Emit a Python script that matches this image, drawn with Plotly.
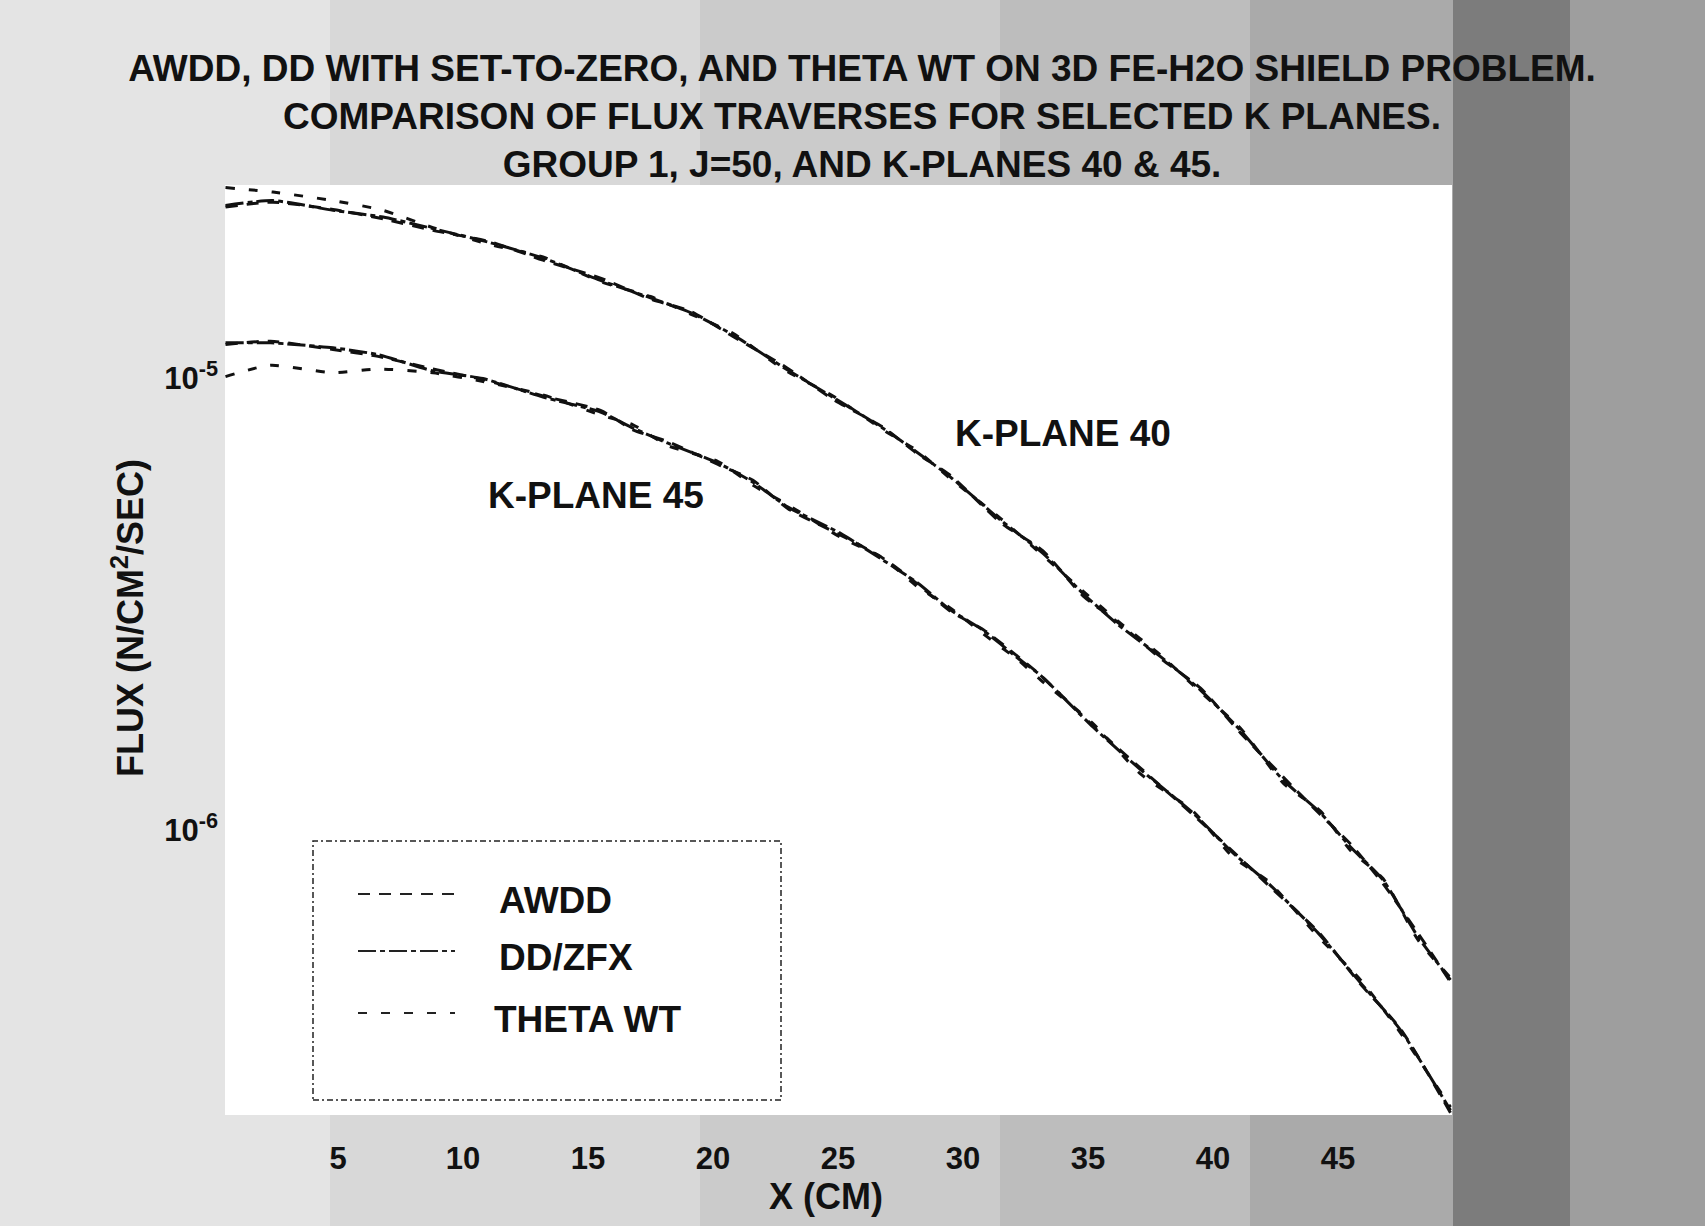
import plotly.graph_objects as go

# ---------------- data ----------------
# X positions (cm) for the two K-plane traverses
x_k40 = [0.5, 2.4, 4.8, 6.8, 8.8, 11.1, 13.2, 15.5, 17.5, 19.1, 20.8, 22.8, 24.8, 26.8, 28.2,
         29.5, 31.5, 33.2, 34.8, 36.2, 37.9, 39.5, 41.1, 42.8, 44.3, 45.5, 46.8, 48.2, 49.5]
x_k45 = [0.5, 2.3, 4.8, 6.6, 8.8, 10.8, 13.2, 15.5, 16.8, 18.2, 20.2, 21.6, 23.0, 25.1, 26.8,
         28.2, 29.5, 30.8, 32.2, 33.1, 35.2, 37.1, 39.2, 40.8, 42.2, 44.2, 45.9, 47.5, 49.5]

# Flux values in units of 1e-6 N/CM2/SEC
awdd_k40 = [24.0, 24.6, 23.7, 22.6, 21.3, 20.1, 18.3, 16.7, 15.0, 14.1, 12.4, 10.7, 9.0, 7.8, 6.8,
            6.1, 4.8, 4.15, 3.3, 2.88, 2.4, 2.06, 1.64, 1.31, 1.08, 0.93, 0.76, 0.59, 0.46]
ddzfx_k40 = [24.2, 24.8, 23.6, 22.8, 21.5, 20.0, 18.5, 16.5, 15.1, 14.0, 12.5, 10.6, 9.09, 7.76, 6.84,
             6.05, 4.86, 4.10, 3.34, 2.85, 2.42, 2.04, 1.66, 1.29, 1.09, 0.916, 0.774, 0.579, 0.465]
theta_k40 = [26.5, 25.9, 24.8, 23.6, 21.6, 19.8, 18.6, 16.4, 15.2, 13.9, 12.6, 10.5, 9.15, 7.7, 6.9,
             6.0, 4.9, 4.05, 3.38, 2.9, 2.44, 2.02, 1.68, 1.27, 1.1, 0.9, 0.78, 0.57, 0.47]

awdd_k45 = [11.9, 12.1, 11.6, 11.2, 10.5, 9.95, 9.15, 8.5, 7.7, 7.25, 6.45, 5.95, 5.15, 4.5, 4.0,
            3.5, 3.05, 2.78, 2.42, 2.2, 1.70, 1.37, 1.08, 0.895, 0.755, 0.595, 0.455, 0.362, 0.236]
ddzfx_k45 = [12.0, 12.0, 11.7, 11.3, 10.4, 10.0, 9.10, 8.43, 7.77, 7.19, 6.50, 5.89, 5.19, 4.54, 3.96,
             3.52, 3.07, 2.77, 2.40, 2.20, 1.69, 1.36, 1.09, 0.889, 0.762, 0.591, 0.458, 0.360, 0.239]
theta_k45 = [10.1, 10.7, 10.3, 10.5, 10.3, 9.85, 9.2, 8.3, 7.9, 7.1, 6.55, 5.8, 5.25, 4.45, 4.0,
             3.45, 3.1, 2.72, 2.38, 2.15, 1.72, 1.33, 1.1, 0.87, 0.77, 0.58, 0.465, 0.355, 0.243]

methods = ["AWDD", "DD/ZFX", "THETA WT"]
x_ticks = [5, 10, 15, 20, 25, 30, 35, 40, 45]
y_tickvals = [1e-5, 1e-6]
y_ticktext = ["10<sup>-5</sup>", "10<sup>-6</sup>"]
plane_labels = ["K-PLANE 40", "K-PLANE 45"]

# ---------------- styling ----------------
FONT = "Liberation Sans, Arial, Helvetica, sans-serif"
INK = "#111111"
dashes = {"AWDD": "12px,9px", "DD/ZFX": "18px,4px,5px,4px", "THETA WT": "9px,14px"}
LW = 3

W, H = 1705, 1226
L, R, T, B = 225, 253, 185, 111
PW, PH = W - L - R, H - T - B


def px_to_paper_x(px):
    return (px - L) / PW


def px_to_paper_y(py):
    return (H - B - py) / PH


fig = go.Figure()

series = [
    (x_k40, awdd_k40, "AWDD"), (x_k40, ddzfx_k40, "DD/ZFX"), (x_k40, theta_k40, "THETA WT"),
    (x_k45, awdd_k45, "AWDD"), (x_k45, ddzfx_k45, "DD/ZFX"), (x_k45, theta_k45, "THETA WT"),
]
for xs, vals, name in series:
    fig.add_trace(go.Scatter(
        x=xs, y=[v * 1e-6 for v in vals], mode="lines", name=name, showlegend=False,
        line=dict(color=INK, width=LW, dash=dashes[name], shape="spline", smoothing=0.6),
    ))

# ---------------- background (scanned paper tones) ----------------
shapes = []
bands = [(0, 330, "#e4e4e4"), (330, 700, "#d8d8d8"), (700, 1000, "#cbcbcb"),
         (1000, 1250, "#bdbdbd"), (1250, 1453, "#aaaaaa"), (1453, 1570, "#7c7c7c"),
         (1570, 1705, "#9e9e9e")]
for a, b, c in bands:
    shapes.append(dict(type="rect", xref="paper", yref="paper", layer="below",
                       x0=px_to_paper_x(a), x1=px_to_paper_x(b),
                       y0=px_to_paper_y(H), y1=px_to_paper_y(0),
                       fillcolor=c, line=dict(width=0)))
shapes.append(dict(type="rect", xref="paper", yref="paper", layer="below",
                   x0=0, x1=1, y0=0, y1=1, fillcolor="white", line=dict(width=0)))

# ---------------- hand-drawn legend box ----------------
shapes.append(dict(type="rect", xref="paper", yref="paper",
                   x0=px_to_paper_x(313), x1=px_to_paper_x(781),
                   y0=px_to_paper_y(1100), y1=px_to_paper_y(841),
                   line=dict(color="#222222", width=1.5, dash="6px,3px,2px,3px"),
                   fillcolor="rgba(0,0,0,0)"))
legend_rows = [(894, 497), (951, 497), (1013, 492)]
annotations = []
for name, (ly, tx) in zip(methods, legend_rows):
    shapes.append(dict(type="line", xref="paper", yref="paper",
                       x0=px_to_paper_x(358), x1=px_to_paper_x(455),
                       y0=px_to_paper_y(ly), y1=px_to_paper_y(ly),
                       line=dict(color="#222222", width=1.8, dash=dashes[name])))
    annotations.append(dict(xref="paper", yref="paper", x=px_to_paper_x(tx), y=px_to_paper_y(ly + 6),
                            xanchor="left", yanchor="middle", showarrow=False,
                            text="<b>%s</b>" % name, font=dict(family=FONT, size=37, color=INK)))

# curve labels
annotations.append(dict(xref="paper", yref="paper", x=px_to_paper_x(1063), y=px_to_paper_y(433),
                        xanchor="center", yanchor="middle", showarrow=False,
                        text="<b>%s</b>" % plane_labels[0], font=dict(family=FONT, size=37, color=INK)))
annotations.append(dict(xref="paper", yref="paper", x=px_to_paper_x(596), y=px_to_paper_y(495),
                        xanchor="center", yanchor="middle", showarrow=False,
                        text="<b>%s</b>" % plane_labels[1], font=dict(family=FONT, size=37, color=INK)))
# axis titles
annotations.append(dict(xref="paper", yref="paper", x=px_to_paper_x(128), y=px_to_paper_y(618),
                        xanchor="center", yanchor="middle", showarrow=False, textangle=-90,
                        text="<b>FLUX (N/CM<sup>2</sup>/SEC)</b>", font=dict(family=FONT, size=36, color=INK)))
annotations.append(dict(xref="paper", yref="paper", x=px_to_paper_x(826), y=px_to_paper_y(1196),
                        xanchor="center", yanchor="middle", showarrow=False,
                        text="<b>X (CM)</b>", font=dict(family=FONT, size=36, color=INK)))

fig.update_layout(
    width=W, height=H, autosize=False,
    margin=dict(l=L, r=R, t=T, b=B, pad=0),
    paper_bgcolor="#d0d0d0", plot_bgcolor="rgba(0,0,0,0)",
    title=dict(
        text="<b>AWDD, DD WITH SET-TO-ZERO, AND THETA WT ON 3D FE-H2O SHIELD PROBLEM.<br>"
             "COMPARISON OF FLUX TRAVERSES FOR SELECTED K PLANES.<br>"
             "GROUP 1, J=50, AND K-PLANES 40 &amp; 45.</b>",
        x=862 / W, xanchor="center", xref="container",
        y=1 - 81 / H, yanchor="top", yref="container",
        font=dict(family=FONT, size=37, color=INK),
    ),
    xaxis=dict(range=[0.48, 49.56], tickvals=x_ticks, ticks="", showgrid=False, zeroline=False,
               showline=False, ticklabelstandoff=22,
               tickfont=dict(family=FONT, size=31, color=INK, weight="bold")),
    yaxis=dict(type="log", range=[-6.632, -4.571], tickvals=y_tickvals, ticktext=y_ticktext,
               ticks="", showgrid=False, zeroline=False, showline=False, ticklabelstandoff=6,
               tickfont=dict(family=FONT, size=31, color=INK, weight="bold")),
    shapes=shapes, annotations=annotations,
)

fig.write_html("out.html", config={"displayModeBar": False},
               post_script="document.body.style.margin='0';document.body.style.overflow='hidden';")
